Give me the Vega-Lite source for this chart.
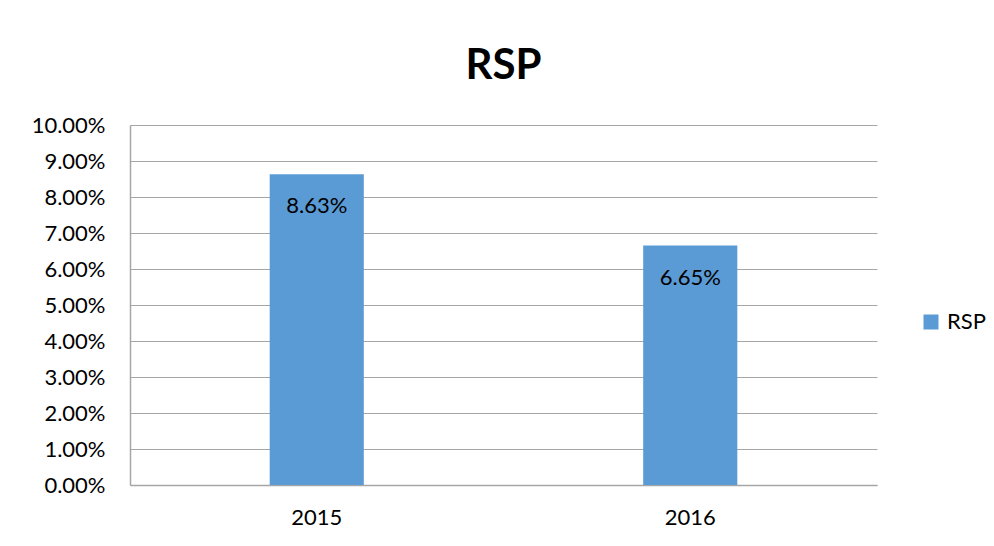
{
  "$schema": "https://vega.github.io/schema/vega-lite/v6.json",
  "width": 747,
  "height": 360,
  "autosize": {"type": "none"},
  "padding": {"left": 130, "top": 125, "right": 117, "bottom": 61},
  "background": "white",
  "title": {"text": "RSP", "fontSize": 42, "font": "Lato", "fontWeight": "bold", "color": "#000000", "anchor": "middle", "offset": 26},
  "data": {"values": [
    {"year": "2015", "value": 0.0863, "series": "RSP"},
    {"year": "2016", "value": 0.0665, "series": "RSP"}
  ]},
  "config": {"view": {"stroke": null}, "font": "Lato"},
  "encoding": {
    "x": {"field": "year", "type": "nominal", "scale": {"paddingInner": 0.748, "paddingOuter": 0.374},
      "axis": {"title": null, "labelAngle": 0, "labelFontSize": 22, "labelColor": "#000000", "labelPadding": 22, "ticks": false, "domainColor": "#a6a6a6", "domainWidth": 1.5}},
    "y": {"field": "value", "type": "quantitative", "scale": {"domain": [0, 0.1], "nice": false},
      "axis": {"title": null, "format": ".2%", "values": [0,0.01,0.02,0.03,0.04,0.05,0.06,0.07,0.08,0.09,0.1], "labelOverlap": false, "labelFontSize": 22, "labelColor": "#000000", "labelPadding": 25, "ticks": false, "gridColor": "#a6a6a6", "gridWidth": 1.2, "domainColor": "#a6a6a6", "domainWidth": 1.5}}
  },
  "layer": [
    {"mark": {"type": "bar", "color": "#5b9bd5"},
     "encoding": {"color": {"field": "series", "type": "nominal", "scale": {"range": ["#5b9bd5"]},
       "legend": {"title": null, "orient": "none", "legendX": 790, "legendY": 186, "labelFontSize": 22, "labelColor": "#000000", "symbolType": "square", "symbolSize": 225, "symbolStrokeWidth": 0, "labelOffset": 5}}}},
    {"mark": {"type": "text", "baseline": "top", "dy": 22, "fontSize": 22, "color": "#000000"},
     "encoding": {"text": {"field": "value", "type": "quantitative", "format": ".2%"}}}
  ]
}
